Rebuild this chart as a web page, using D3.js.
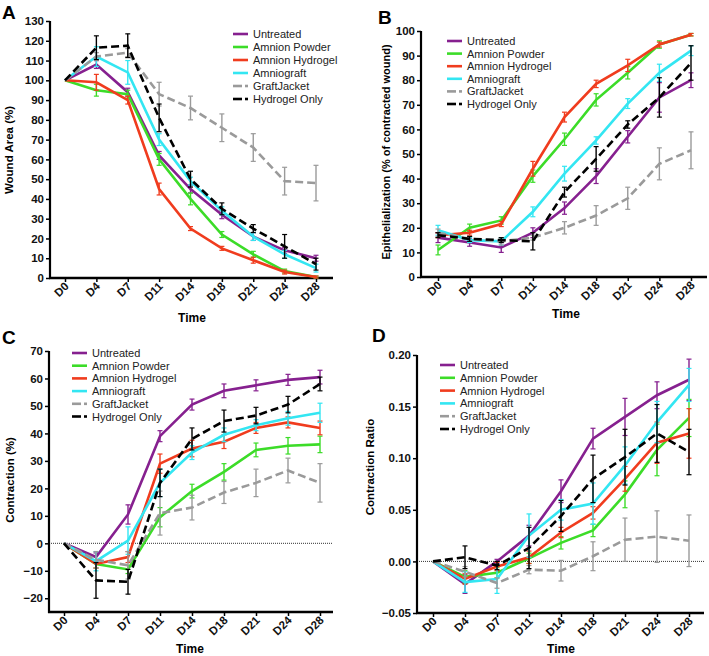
<!DOCTYPE html>
<html><head><meta charset="utf-8">
<script src="https://cdn.jsdelivr.net/npm/d3@7"></script>
<style>body{margin:0;background:#fff}svg{display:block;font-family:"Liberation Sans",Arial,sans-serif}</style>
</head><body><svg id="c" width="709" height="656"></svg>
<script>
const categories = ["D0","D4","D7","D11","D14","D18","D21","D24","D28"];
const seriesNames = ["Untreated","Amnion Powder","Amnion Hydrogel","Amniograft","GraftJacket","Hydrogel Only"];
const seriesColors = ["#86208f","#3cdc28","#f03c1e","#33e6f2","#9a9a9a","#000000"];
const seriesDashed = [false,false,false,false,true,true];

// Panel A: Wound Area (%)
const woundUntreated = [100,108,94,62,45,32,21,14,10];
const woundPowder    = [100,95,93,60,40,22,12,3.5,0.5];
const woundHydrogel  = [100,99,90,45,25,15,9,3,0.5];
const woundAmniograft= [100,112,104,70,49,34,21,12,5];
const woundGraft     = [100,112,114,93,86,76,66,49,48];
const woundHydroOnly = [100,116.5,117.5,81,50,35,25,16,7];
const woundErrUntreated = [0,2,2,2,2,2,2,1.5,1.5];
const woundErrPowder    = [0,3,2,3,3,1.5,1.5,1,0.5];
const woundErrHydrogel  = [0,4,2,3,1,1,1.5,1,0.5];
const woundErrAmniograft= [0,5,6,3,2,2,2,2,2];
const woundErrGraft     = [0,2,2,6,6,7,7,7,9];
const woundErrHydroOnly = [0,6,6,7,4,3,2,6,3];
const woundTicks = [0,10,20,30,40,50,60,70,80,90,100,110,120,130];

// Panel B: Epithelialization
const epiUntreated = [16,14,12,18,28,41,57,73,80];
const epiPowder    = [11,20,23,41,56,72,83,94.5,98.5];
const epiHydrogel  = [17,18,21.5,44,65,78.5,86,94.5,98.5];
const epiAmniograft= [19,15,14.5,26.5,42,55.5,70.5,83,92];
const epiGraft     = [18,15.5,14.5,16,20,25,32,46,51.5];
const epiHydroOnly = [17,15.5,15,14.5,34.5,48,62,73,87];
const epiErrUntreated = [2,1.5,2,2,2.5,3,2.5,6,3];
const epiErrPowder    = [2,1.5,1.5,2.5,2.5,2.5,2.5,1.5,0.5];
const epiErrHydrogel  = [1,1,1,3,2,1.5,2.5,1,0.5];
const epiErrAmniograft= [2,1,1.5,2,3,1.5,2,3.5,2];
const epiErrGraft     = [1.5,1,1.5,1,2.5,4,4.5,6.5,7.5];
const epiErrHydroOnly = [1,1,1,3.5,2,5,1.5,8,7];
const epiTicks = [0,10,20,30,40,50,60,70,80,90,100];

// Panel C: Contraction (%)
const conUntreated = [0,-5,10.5,39,50.5,55.5,57.5,59.5,60.5];
const conPowder    = [0,-7.5,-9.5,9.5,19,26,34,35.5,36];
const conHydrogel  = [0,-7.5,-5,29,34.5,37,42,44,42];
const conAmniograft= [0,-6.5,1,22,33,39.5,43,45.5,47.5];
const conGraft     = [0,-6,-8,11,13,18.5,22,26.5,22];
const conHydroOnly = [0,-13.5,-14,22,38,44.5,46.5,50.5,58];
const conErrUntreated = [0,1.5,3.5,2,2,2.5,2,2,2.5];
const conErrPowder    = [0,1.5,1.5,3.5,2.5,3,2.5,3,3];
const conErrHydrogel  = [0,1.5,2,3.5,3,2.5,2,2,2.5];
const conErrAmniograft= [0,3.5,5,5,2.5,2.5,2,2.5,3.5];
const conErrGraft     = [0,3,5,8,4.5,4,5,4.5,7];
const conErrHydroOnly = [0,6.5,4.5,5,4,4,3,3,2.5];
const conTicks = [-20,-10,0,10,20,30,40,50,60,70];

// Panel D: Contraction Ratio
const ratUntreated = [0,-0.022,0.0,0.025,0.068,0.119,0.140,0.161,0.176];
const ratPowder    = [0,-0.015,-0.011,0.003,0.018,0.030,0.065,0.108,0.139];
const ratHydrogel  = [0,-0.017,-0.005,0.004,0.028,0.047,0.080,0.115,0.124];
const ratAmniograft= [0,-0.020,-0.017,0.025,0.050,0.056,0.093,0.135,0.171];
const ratGraft     = [0,-0.010,-0.021,-0.008,-0.009,0.005,0.021,0.024,0.020];
const ratHydroOnly = [0,0.004,-0.004,0.013,0.044,0.080,0.101,0.124,0.106];
const ratErrUntreated = [0,0.009,0.002,0.010,0.011,0.010,0.018,0.013,0.020];
const ratErrPowder    = [0,0.006,0.005,0.005,0.006,0.006,0.013,0.025,0.018];
const ratErrHydrogel  = [0,0.005,0.004,0.006,0.005,0.006,0.012,0.020,0.024];
const ratErrAmniograft= [0,0.010,0.014,0.021,0.010,0.020,0.018,0.020,0.016];
const ratErrGraft     = [0,0.005,0.005,0.004,0.010,0.014,0.021,0.025,0.025];
const ratErrHydroOnly = [0,0.011,0.004,0.020,0.015,0.023,0.027,0.028,0.022];
const ratTicks = [-0.05,0,0.05,0.10,0.15,0.20];

const svg = d3.select("#c");

function panel(cfg){
  const g = svg.append("g");
  const x = d3.scalePoint().domain(categories).range([cfg.x0, cfg.x1]);
  const y = d3.scaleLinear().domain(cfg.domain).range([cfg.yb, cfg.yt]);
  if (cfg.zero) {
    g.append("line").attr("x1", cfg.ax).attr("x2", cfg.axEnd)
      .attr("y1", y(0)).attr("y2", y(0))
      .attr("stroke","#333").attr("stroke-width",1).attr("stroke-dasharray","1,1");
  }
  const ya = g.append("g").attr("transform",`translate(${cfg.ax},0)`)
    .call(d3.axisLeft(y).tickValues(cfg.ticks).tickFormat(cfg.fmt).tickSize(4).tickSizeOuter(0));
  ya.select(".domain").attr("stroke-width",2.2).attr("d",`M0,${cfg.yb+1}V${cfg.yt}`);
  ya.selectAll(".tick line").attr("stroke-width",1.5);
  ya.selectAll("text").attr("font-size",11.5).attr("font-weight","bold").attr("fill","#111").attr("x",-6);
  const xa = g.append("g").attr("transform",`translate(0,${cfg.yb})`)
    .call(d3.axisBottom(x).tickSize(4).tickSizeOuter(0));
  xa.select(".domain").attr("d",`M${cfg.ax-1},0H${cfg.axEnd}`).attr("stroke-width",2.4);
  xa.selectAll(".tick line").attr("stroke-width",1.5);
  xa.selectAll("text").attr("font-size",11.5).attr("font-weight","bold").attr("fill","#111")
    .attr("text-anchor","end").attr("dy",null).attr("y",0)
    .attr("transform","translate(4,9) rotate(-45)");
  g.append("text").attr("x",cfg.timeX).attr("y",cfg.timeY).attr("text-anchor","middle")
    .attr("font-size",12).attr("font-weight","bold").text("Time");
  g.append("text").attr("transform",`translate(${cfg.ytX},${cfg.ytY}) rotate(-90)`)
    .attr("text-anchor","middle").attr("font-size",cfg.ytSize||11.5).attr("font-weight","bold").text(cfg.ytitle);
  g.append("text").attr("x",cfg.lx).attr("y",cfg.ly).attr("font-size",19).attr("font-weight","bold").text(cfg.letter);
  const line = d3.line().x((d,i)=>x(categories[i])).y(d=>y(d));
  cfg.series.forEach((vals,si)=>{
    const errs = cfg.errors[si];
    const col = seriesColors[si];
    const eg = g.append("g");
    vals.forEach((v,i)=>{
      const e = errs[i]; if (!e) return;
      const cx = x(categories[i]);
      eg.append("line").attr("x1",cx).attr("x2",cx).attr("y1",y(v-e)).attr("y2",y(v+e)).attr("stroke",col).attr("stroke-width",1.4);
      [v-e,v+e].forEach(t=>eg.append("line").attr("x1",cx-2.5).attr("x2",cx+2.5).attr("y1",y(t)).attr("y2",y(t)).attr("stroke",col).attr("stroke-width",1.2));
    });
    g.append("path").attr("d",line(vals)).attr("fill","none").attr("stroke",col)
      .attr("stroke-width",2.6).attr("stroke-dasharray",seriesDashed[si]?"8,4":null);
  });
  const lg = g.append("g");
  seriesNames.forEach((n,i)=>{
    const yy = cfg.legY + i*cfg.legDy;
    if (seriesDashed[i]) {
      lg.append("line").attr("x1",cfg.legX).attr("x2",cfg.legX+9).attr("y1",yy).attr("y2",yy).attr("stroke",seriesColors[i]).attr("stroke-width",2.6);
      lg.append("line").attr("x1",cfg.legX+12).attr("x2",cfg.legX+15).attr("y1",yy).attr("y2",yy).attr("stroke",seriesColors[i]).attr("stroke-width",2.6);
    } else {
      lg.append("line").attr("x1",cfg.legX).attr("x2",cfg.legX+15).attr("y1",yy).attr("y2",yy).attr("stroke",seriesColors[i]).attr("stroke-width",2.6);
    }
    lg.append("text").attr("x",cfg.legX+20).attr("y",yy+4).attr("font-size",11).attr("fill","#222").text(n);
  });
}

panel({letter:"A",lx:2,ly:19,x0:65,x1:316,ax:50,axEnd:333,yt:21,yb:278,domain:[0,130],ticks:woundTicks,fmt:d3.format("d"),
  timeX:192,timeY:322,ytX:13,ytY:150,ytitle:"Wound Area (%)",
  series:[woundUntreated,woundPowder,woundHydrogel,woundAmniograft,woundGraft,woundHydroOnly],
  errors:[woundErrUntreated,woundErrPowder,woundErrHydrogel,woundErrAmniograft,woundErrGraft,woundErrHydroOnly],
  legX:233,legY:34,legDy:13});
panel({letter:"B",lx:378,ly:24,x0:438,x1:691,ax:421,axEnd:707,yt:31,yb:277,domain:[0,100],ticks:epiTicks,fmt:d3.format("d"),
  timeX:566,timeY:318,ytX:390,ytY:152,ytitle:"Epithelialization (% of contracted wound)",ytSize:11,
  series:[epiUntreated,epiPowder,epiHydrogel,epiAmniograft,epiGraft,epiHydroOnly],
  errors:[epiErrUntreated,epiErrPowder,epiErrHydrogel,epiErrAmniograft,epiErrGraft,epiErrHydroOnly],
  legX:447,legY:41,legDy:12.6});
panel({letter:"C",lx:2,ly:344,x0:64,x1:320,ax:49,axEnd:333,yt:351,yb:612,domain:[-25,70],ticks:conTicks,fmt:d3.format("d"),zero:true,
  timeX:190,timeY:653,ytX:14,ytY:480,ytitle:"Contraction (%)",
  series:[conUntreated,conPowder,conHydrogel,conAmniograft,conGraft,conHydroOnly],
  errors:[conErrUntreated,conErrPowder,conErrHydrogel,conErrAmniograft,conErrGraft,conErrHydroOnly],
  legX:72,legY:353,legDy:12.7});
panel({letter:"D",lx:372,ly:342,x0:433,x1:689,ax:417,axEnd:704,yt:355,yb:613,domain:[-0.05,0.20],ticks:ratTicks,fmt:d3.format(".2f"),zero:true,
  timeX:561,timeY:653,ytX:374,ytY:467,ytitle:"Contraction Ratio",
  series:[ratUntreated,ratPowder,ratHydrogel,ratAmniograft,ratGraft,ratHydroOnly],
  errors:[ratErrUntreated,ratErrPowder,ratErrHydrogel,ratErrAmniograft,ratErrGraft,ratErrHydroOnly],
  legX:440,legY:365,legDy:12.8});
</script></body></html>
